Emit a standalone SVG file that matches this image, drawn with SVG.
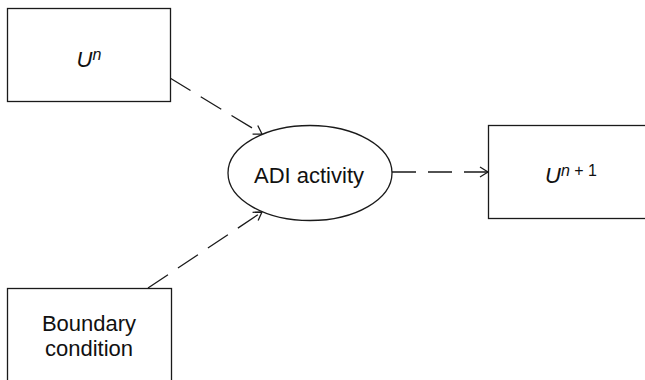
<svg xmlns="http://www.w3.org/2000/svg" width="645" height="380" viewBox="0 0 645 380">
<style>
.box{fill:#fff;stroke:#1a1a1a;stroke-width:1.3}
.lbl{font-family:"Liberation Sans",Arial,sans-serif;font-size:22px;fill:#111}
.it{font-style:italic}
.sup{font-size:16px}
.conn{fill:none;stroke:#1a1a1a;stroke-width:1.3;stroke-dasharray:24 12}
</style>
<defs>
<marker id="arr" markerUnits="userSpaceOnUse" markerWidth="12" markerHeight="12" refX="8" refY="5" orient="auto" overflow="visible">
<path d="M0,0 L8,5 L0,10" fill="none" stroke="#1a1a1a" stroke-width="1.3" stroke-dasharray="none"/>
</marker>
</defs>
<rect width="645" height="380" fill="#fff"/>
<g id="connectors">
<line class="conn" x1="170" y1="78" x2="262" y2="134" marker-end="url(#arr)"/>
<line class="conn" x1="148" y1="288" x2="262" y2="212" marker-end="url(#arr)"/>
<line class="conn" x1="392" y1="172" x2="488" y2="172" marker-end="url(#arr)"/>
</g>
<g id="node-un">
<rect class="box" x="7.5" y="8.5" width="163" height="93"/>
<text class="lbl" x="89" y="67" text-anchor="middle"><tspan class="it">U</tspan><tspan class="it sup" dy="-7">n</tspan></text>
</g>
<g id="node-adi">
<ellipse class="box" cx="310" cy="173" rx="82" ry="47.5"/>
<text class="lbl" x="309" y="183" text-anchor="middle">ADI activity</text>
</g>
<g id="node-un1">
<rect class="box" x="488.5" y="125.5" width="170" height="93"/>
<text class="lbl" x="545" y="183"><tspan class="it">U</tspan><tspan class="it sup" dy="-7">n</tspan><tspan class="sup"> + 1</tspan></text>
</g>
<g id="node-bc">
<rect class="box" x="7.5" y="288.5" width="164" height="100"/>
<text class="lbl" x="89" y="331" text-anchor="middle">Boundary</text>
<text class="lbl" x="89" y="356" text-anchor="middle">condition</text>
</g>
</svg>
